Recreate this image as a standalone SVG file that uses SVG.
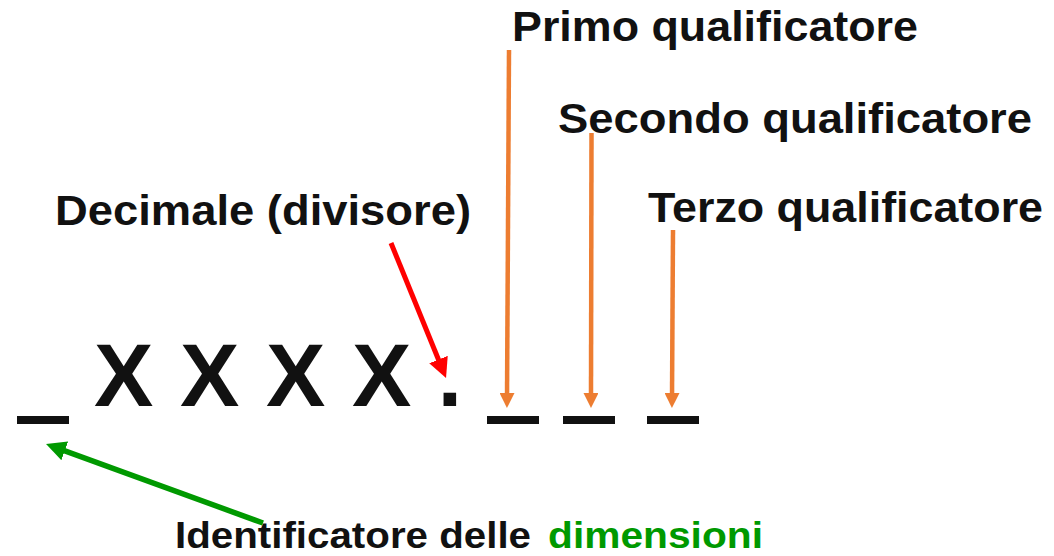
<svg xmlns="http://www.w3.org/2000/svg" width="1054" height="556" viewBox="0 0 1054 556">
  <style>
    .lbl { font-family: "Liberation Sans", Arial, sans-serif; font-weight: bold; fill: #111111; }
    .big { font-family: "Liberation Sans", Arial, sans-serif; font-weight: bold; font-size: 89px; fill: #111111; }
    .bar { fill: #111111; }
    .green { fill: #009900; }
    .orange { stroke: #ED7D31; stroke-width: 4.5; fill: none; marker-end: url(#headOrange); }
    .red { stroke: #FF0000; stroke-width: 5; fill: none; marker-end: url(#headRed); }
    .grn { stroke: #009900; stroke-width: 5.5; fill: none; marker-end: url(#headGreen); }
  </style>
  <defs>
    <marker id="headOrange" markerUnits="userSpaceOnUse" viewBox="0 0 15 15" markerWidth="15" markerHeight="15" refX="5" refY="7.5" orient="auto">
      <path d="M0,0 L15,7.5 L0,15 z" fill="#ED7D31"/>
    </marker>
    <marker id="headRed" markerUnits="userSpaceOnUse" viewBox="0 0 20 20" markerWidth="20" markerHeight="20" refX="8" refY="10" orient="auto">
      <path d="M0,0 L20,10 L0,20 z" fill="#FF0000"/>
    </marker>
    <marker id="headGreen" markerUnits="userSpaceOnUse" viewBox="0 0 20 20" markerWidth="20" markerHeight="20" refX="8" refY="10" orient="auto">
      <path d="M0,0 L20,10 L0,20 z" fill="#009900"/>
    </marker>
  </defs>
  <rect width="1054" height="556" fill="#ffffff"/>

  <g id="code">
    <rect class="bar" x="17" y="416" width="52" height="8"/>
    <text class="big" x="94" y="406">X</text>
    <text class="big" x="180" y="406">X</text>
    <text class="big" x="266" y="406">X</text>
    <text class="big" x="352" y="406">X</text>
    <text class="big" x="437.6" y="406">.</text>
    <rect class="bar" x="487" y="416" width="52" height="8"/>
    <rect class="bar" x="563" y="416" width="52" height="8"/>
    <rect class="bar" x="647" y="416" width="52" height="8"/>
  </g>

  <g id="primo">
    <text class="lbl" x="512" y="41" font-size="43" textLength="406" lengthAdjust="spacingAndGlyphs">Primo qualificatore</text>
  </g>
  <g id="secondo">
    <text class="lbl" x="558" y="133" font-size="43" textLength="474" lengthAdjust="spacingAndGlyphs">Secondo qualificatore</text>
  </g>
  <g id="terzo">
    <text class="lbl" x="648" y="222" font-size="43" textLength="395" lengthAdjust="spacingAndGlyphs">Terzo qualificatore</text>
  </g>
  <g id="decimale">
    <text class="lbl" x="55" y="225" font-size="43" textLength="416" lengthAdjust="spacingAndGlyphs">Decimale (divisore)</text>
  </g>
  <g id="identificatore">
    <text class="lbl" x="175" y="548" font-size="37" textLength="356" lengthAdjust="spacingAndGlyphs">Identificatore delle</text>
    <text class="lbl green" x="548" y="548" font-size="37" textLength="215" lengthAdjust="spacingAndGlyphs">dimensioni</text>
  </g>

  <g id="connectors">
    <line class="orange" x1="509" y1="50" x2="507" y2="398"/>
    <line class="orange" x1="591.5" y1="133" x2="591" y2="398"/>
    <line class="orange" x1="673" y1="230" x2="672" y2="398"/>
    <line class="red" x1="391" y1="243" x2="441.5" y2="367"/>
    <line class="grn" x1="263" y1="523" x2="57.3" y2="448.1"/>
  </g>
</svg>
